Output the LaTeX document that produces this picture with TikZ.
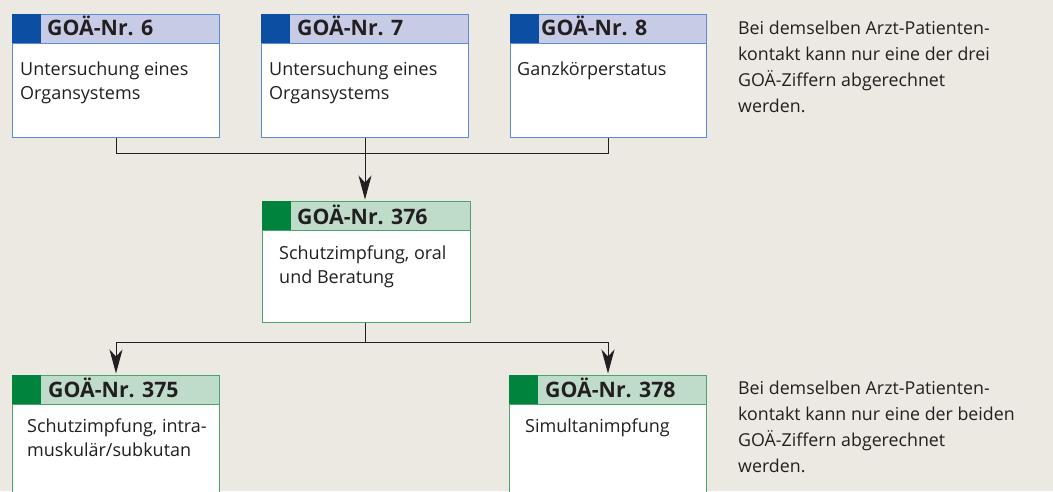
\documentclass[tikz,border=0pt]{standalone}
\usepackage{fontspec}
\setmainfont{Open Sans}
\usetikzlibrary{arrows.meta}
\definecolor{paper}{HTML}{EBE9E1}
\definecolor{ink}{HTML}{231F20}
\definecolor{bluedark}{HTML}{0B4EA2}
\definecolor{bluelight}{HTML}{C8CBE6}
\definecolor{blueline}{HTML}{5B8BD0}
\definecolor{greendark}{HTML}{00843D}
\definecolor{greenlight}{HTML}{BFDCCB}
\definecolor{greenline}{HTML}{4CA36B}
\tikzset{
  box/.style={draw=#1line, fill=white, line width=1pt, anchor=north west,
    inner sep=0pt, minimum width=207pt, minimum height=123pt},
  head/.style={draw=#1line, fill=#1light, line width=1pt, anchor=north west,
    inner sep=0pt, minimum width=207pt, minimum height=29pt},
  tab/.style={fill=#1dark, anchor=north west, inner sep=0pt,
    minimum width=29pt, minimum height=29pt},
  headtext/.style={anchor=base west, inner sep=0pt, text=ink,
    font=\fontsize{21.3}{24}\selectfont\bfseries},
  % base of a multi-line text = baseline of its last line
  bodytext/.style={anchor=base west, inner sep=0pt, align=left, text=ink,
    font=\fontsize{18}{24}\selectfont},
  note/.style={anchor=base west, inner sep=0pt, align=left, text=ink,
    font=\fontsize{17.8}{25.7}\selectfont},
  wire/.style={draw=ink, line width=1pt},
  arrow/.style={wire, -{Stealth[length=24pt, width=13pt, inset=7pt]}, shorten >=1.5pt}
}
\begin{document}
\begin{tikzpicture}[x=1pt, y=-1pt]
  \fill[paper] (0,0) rectangle (1053,491);
  \useasboundingbox (0,0) rectangle (1053,491);
  \clip (0,0) rectangle (1053,491);

  % top row
  \node[box=blue] (n6) at (12,14) {};
  \node[head=blue] (h6) at (12,14) {};
  \node[tab=blue] (t6) at (12,14) {};
  \node[headtext] (l6) at (47,35) {GOÄ-Nr. 6};
  \node[bodytext] (b6) at (20,99) {Untersuchung eines\\Organsystems};

  \node[box=blue] (n7) at (261,14) {};
  \node[head=blue] (h7) at (261,14) {};
  \node[tab=blue] (t7) at (261,14) {};
  \node[headtext] (l7) at (297,35) {GOÄ-Nr. 7};
  \node[bodytext] (b7) at (269,99) {Untersuchung eines\\Organsystems};

  \node[box=blue, minimum width=196pt] (n8) at (510,14) {};
  \node[head=blue, minimum width=196pt] (h8) at (510,14) {};
  \node[tab=blue] (t8) at (510,14) {};
  \node[headtext] (l8) at (541,35) {GOÄ-Nr. 8};
  \node[bodytext] (b8) at (517,75) {Ganzkörperstatus};

  \node[note] (r1) at (738,112) {Bei demselben Arzt-Patienten-\\kontakt kann nur eine der drei\\GOÄ-Ziffern abgerechnet\\werden.};

  % middle
  \node[box=green, minimum width=208pt, minimum height=121pt] (n376) at (262,201) {};
  \node[head=green, minimum width=208pt] (h376) at (262,201) {};
  \node[tab=green] (t376) at (262,201) {};
  \node[headtext] (l376) at (297,224) {GOÄ-Nr. 376};
  \node[bodytext] (b376) at (279,283) {Schutzimpfung, oral\\und Beratung};

  % bottom row
  \node[box=green, minimum height=130pt] (n375) at (12,375) {};
  \node[head=green] (h375) at (12,375) {};
  \node[tab=green] (t375) at (12,375) {};
  \node[headtext] (l375) at (48,397) {GOÄ-Nr. 375};
  \node[bodytext] (b375) at (27,456) {Schutzimpfung, intra-\\muskulär/subkutan};

  \node[box=green, minimum width=197pt, minimum height=130pt] (n378) at (509,375) {};
  \node[head=green, minimum width=197pt] (h378) at (509,375) {};
  \node[tab=green] (t378) at (509,375) {};
  \node[headtext] (l378) at (545,397) {GOÄ-Nr. 378};
  \node[bodytext] (b378) at (525,432) {Simultanimpfung};

  \node[note] (r2) at (738,472) {Bei demselben Arzt-Patienten-\\kontakt kann nur eine der beiden\\GOÄ-Ziffern abgerechnet\\werden.};

  % connectors
  \coordinate (j1) at (364,153);
  \coordinate (j2) at (364,342);
  \begin{scope}
    \draw[wire] (n6.south) -- (n6.south |- j1) -- (n8.south |- j1) -- (n8.south);
    \draw[arrow] (n7.south) -- (n7.south |- n376.north);
    \draw[wire] (n7.south |- n376.south) -- (n7.south |- j2);
    \draw[wire] (n375.north |- j2) -- (n378.north |- j2);
    \draw[arrow] (n375.north |- j2) -- (n375.north);
    \draw[arrow] (n378.north |- j2) -- (n378.north);
  \end{scope}
\end{tikzpicture}
\end{document}
